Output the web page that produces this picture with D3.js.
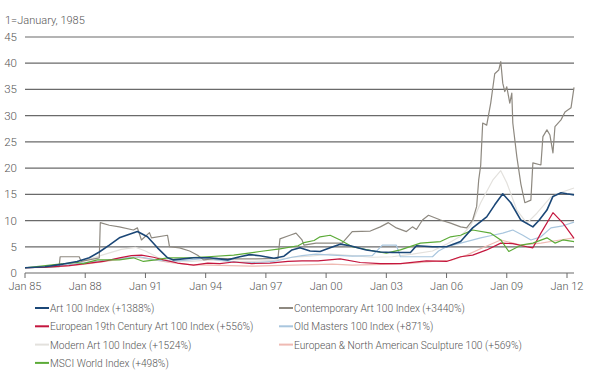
<!DOCTYPE html>
<html>
<head>
<meta charset="utf-8">
<script src="https://cdn.jsdelivr.net/npm/d3@7"></script>
<style>
  body { margin: 0; background: #fff; }
  svg text { font-family: Roboto, "Liberation Sans", sans-serif; font-weight: 300; fill: #555; }
</style>
</head>
<body>
<svg class="chart"></svg>
<script>
// values are index levels (1 = January 1985), dates as decimal years
var art100 = [[1985,1],[1986,1.2],[1986.9,1.7],[1987.6,2.2],[1988.2,2.9],[1988.7,4],[1989.2,5.3],[1989.7,6.7],[1990.2,7.4],[1990.6,7.9],[1991.1,6.9],[1991.6,4.8],[1992.1,2.9],[1992.4,2.5],[1993.4,2.9],[1994.2,2.9],[1995.1,2.5],[1995.7,3.1],[1996.2,3.5],[1996.7,3.3],[1997.4,2.8],[1997.9,3.2],[1998.3,4.4],[1998.7,4.8],[1999.2,4.2],[1999.7,4.1],[2000.2,4.8],[2000.7,5.5],[2001.2,5.2],[2002.0,4.4],[2002.7,4.0],[2003.3,3.9],[2004.2,3.9],[2004.5,5.2],[2005.3,5.0],[2006.0,5.0],[2006.7,6.0],[2007.3,8.6],[2008.0,10.7],[2008.4,13],[2008.8,15.1],[2009.2,13.4],[2009.7,10.1],[2010.3,8.8],[2010.6,10],[2011.0,12],[2011.3,14.6],[2011.7,15.3],[2012.0,15.1],[2012.35,14.9]];

var contemporary = [[1985,1],[1986,1.1],[1986.7,1.2],[1986.75,3.1],[1987.7,3.1],[1987.8,2.2],[1988.7,2.9],[1988.75,9.6],[1989.2,9.1],[1989.7,8.8],[1990.4,8.2],[1990.6,8.6],[1990.8,6.3],[1991.2,7.7],[1991.3,6.7],[1992.1,7.2],[1992.2,5.0],[1992.7,4.8],[1993.2,4.2],[1993.6,3.4],[1993.9,2.5],[1994.5,2.8],[1995.5,2.7],[1996.5,2.7],[1997.6,2.8],[1997.7,6.5],[1998.2,7.2],[1998.5,7.6],[1998.8,6.3],[1998.9,5.3],[1999.5,5.7],[2000.8,5.7],[2001.3,7.9],[2002.2,8.0],[2002.7,8.8],[2003.1,9.6],[2003.5,8.6],[2004.0,7.9],[2004.3,8.8],[2004.5,8.3],[2004.8,10.1],[2005.1,11],[2005.7,10.1],[2006.2,9.5],[2006.7,8.8],[2007.0,8.6],[2007.3,10.1],[2007.5,12.7],[2007.6,17.7],[2007.7,20.5],[2007.8,28.6],[2008.0,28.2],[2008.2,32.4],[2008.4,38],[2008.6,38.7],[2008.7,40.3],[2008.8,36.2],[2008.9,34.6],[2009.0,35.5],[2009.15,32.4],[2009.25,34.3],[2009.3,28.6],[2009.5,22.2],[2009.7,17],[2009.8,15.2],[2009.9,13.4],[2010.2,13.9],[2010.3,21],[2010.7,20.6],[2010.8,26],[2011.0,27.3],[2011.15,26.3],[2011.3,22.9],[2011.4,27.9],[2011.7,29.2],[2011.9,30.7],[2012.2,31.5],[2012.35,35.4]];

var european19 = [[1985,1],[1986,1.1],[1987.2,1.4],[1988.0,1.8],[1988.9,2.2],[1989.7,2.9],[1990.3,3.3],[1990.8,3.4],[1991.4,3.0],[1991.9,2.5],[1992.6,1.9],[1993.4,1.5],[1994.1,1.9],[1994.7,1.8],[1995.4,2.1],[1996.3,1.8],[1997.2,1.9],[1998.1,2.2],[1998.8,2.3],[1999.6,2.3],[2000.7,2.7],[2001.7,2.0],[2002.7,1.8],[2003.7,1.8],[2005.0,2.3],[2006.0,2.2],[2006.7,3.1],[2007.3,3.4],[2008.0,4.4],[2008.7,5.7],[2009.3,5.6],[2010.0,5.0],[2010.3,4.8],[2010.7,7.6],[2011.3,11.5],[2011.8,9.5],[2012.35,6.6]];

var oldMasters = [[1985,1],[1986,1.1],[1987,1.5],[1988,2.0],[1989,2.4],[1990,2.9],[1990.7,3.1],[1991.5,2.5],[1992.3,2.2],[1993.2,2.5],[1994.0,2.8],[1994.8,2.4],[1995.7,2.0],[1996.6,2.0],[1997.4,2.2],[1998.3,3.0],[1998.8,3.3],[1999.5,3.6],[2000.3,3.4],[2001.3,3.2],[2002.3,3.3],[2002.8,5.3],[2003.5,5.3],[2003.7,3.1],[2005.3,3.1],[2005.6,4.2],[2006.0,5.0],[2006.7,5.7],[2007.7,6.7],[2008.3,7.2],[2008.8,7.6],[2009.3,8.2],[2009.8,7.2],[2010.2,6.3],[2010.7,6.9],[2011.2,8.6],[2011.8,9.0],[2012.35,9.7]];

var modern = [[1985,1],[1986,1.1],[1987,1.6],[1988,2.4],[1989,3.6],[1989.8,4.5],[1990.5,4.9],[1991.0,4.2],[1991.6,3.0],[1992.3,2.3],[1993.3,2.2],[1994.2,2.5],[1995.3,2.2],[1996.4,2.2],[1997.4,2.4],[1998.3,3.0],[1999.2,3.2],[2000.2,3.6],[2001.3,3.3],[2002.3,3.0],[2003.3,3.1],[2004.3,3.6],[2005.3,4.2],[2006.0,5.5],[2006.7,7.0],[2007.2,9.0],[2007.7,13.4],[2008.3,17.7],[2008.7,19.5],[2009.0,17.2],[2009.5,12],[2010.0,9.5],[2010.5,11.4],[2011.2,14.5],[2011.8,15.5],[2012.35,16.2]];

var sculpture = [[1985,1],[1986,1.05],[1987,1.3],[1988,1.7],[1989,2.2],[1990,2.8],[1990.6,3.0],[1991.3,2.6],[1992.2,2.0],[1993.2,1.6],[1994.2,1.5],[1995.2,1.4],[1996.3,1.3],[1997.3,1.4],[1998.3,1.5],[1999.3,1.6],[2000.3,1.7],[2001.3,1.5],[2002.3,1.6],[2003.3,1.7],[2004.3,1.9],[2005.3,2.2],[2006.2,2.4],[2007.0,3.4],[2007.8,4.8],[2008.7,6.3],[2009.7,5.3],[2010.7,5.7],[2011.5,6.2],[2012.35,6.7]];

var msci = [[1985,1],[1985.8,1.3],[1986.7,1.7],[1987.6,2.0],[1987.9,1.8],[1988.6,2.5],[1989.7,2.5],[1990.4,2.9],[1990.9,2.2],[1991.5,2.5],[1992.1,2.9],[1993.1,2.9],[1994.1,3.1],[1995.4,3.4],[1996.7,4.1],[1997.7,4.6],[1998.6,5.2],[1998.9,5.8],[1999.4,6.2],[1999.7,6.9],[2000.2,7.2],[2000.7,6.3],[2001.3,5.0],[2002.5,4.1],[2003.0,3.8],[2003.7,4.4],[2004.7,5.7],[2005.7,6.0],[2006.2,6.9],[2006.7,7.2],[2007.3,8.2],[2008.2,7.6],[2008.7,6.3],[2009.1,4.1],[2009.7,5.3],[2010.3,5.7],[2011.0,6.7],[2011.4,5.7],[2011.8,6.3],[2012.35,6.0]];

var seriesNames = ["Art 100 Index (+1388%)", "Contemporary Art 100 Index (+3440%)",
    "European 19th Century Art 100 Index  (+556%)", "Old Masters 100 Index (+871%)",
    "Modern Art 100 Index (+1524%)", "European & North American Sculpture 100 (+569%)",
    "MSCI World Index (+498%)"];
var seriesValues = [art100, contemporary, european19, oldMasters, modern, sculpture, msci];
var seriesColors = ["#1b4777", "#8e8980", "#c4163e", "#a9c6de", "#e3e1dd", "#efbab3", "#5cab38"];

var yTicks = [0, 5, 10, 15, 20, 25, 30, 35, 40, 45];
var xTicks = [1985, 1988, 1991, 1994, 1997, 2000, 2003, 2006, 2009, 2012];

var width = 600, height = 376;

var svg = d3.select(".chart")
    .attr("width", width)
    .attr("height", height);

var x = d3.scaleLinear().domain([1985, 2012]).range([25, 567]);
var y = d3.scaleLinear().domain([0, 45]).range([273, 37]);
var gridRight = 574;

svg.append("text")
    .attr("x", 5).attr("y", 24)
    .style("font-size", "11px")
    .text("1=January, 1985");

// gridlines
svg.append("g").selectAll("line")
    .data(yTicks.filter(function(d) { return d > 0; }))
    .enter().append("line")
    .attr("x1", 25).attr("x2", gridRight)
    .attr("y1", function(d) { return y(d); })
    .attr("y2", function(d) { return y(d); })
    .attr("stroke", "#6a6a6a")
    .attr("stroke-width", 1.2);

svg.append("g").selectAll("text")
    .data(yTicks)
    .enter().append("text")
    .attr("x", 17)
    .attr("y", function(d) { return y(d) + 4; })
    .attr("text-anchor", "end")
    .style("font-size", "11.5px")
    .text(function(d) { return d; });

// lines, drawn so the darker ones end on top
var line = d3.line()
    .x(function(d) { return x(d[0]); })
    .y(function(d) { return y(d[1]); });

var drawOrder = [4, 5, 3, 1, 2, 6, 0];
svg.append("g").selectAll("path")
    .data(drawOrder)
    .enter().append("path")
    .attr("fill", "none")
    .attr("stroke", function(i) { return seriesColors[i]; })
    .attr("stroke-width", function(i) { return i === 0 ? 1.6 : 1.2; })
    .attr("stroke-linejoin", "round")
    .attr("d", function(i) { return line(seriesValues[i]); });

// x axis
var xAxis = svg.append("g");
xAxis.append("line")
    .attr("x1", 25).attr("x2", gridRight)
    .attr("y1", y(0)).attr("y2", y(0))
    .attr("stroke", "#6a6a6a").attr("stroke-width", 1.2);
xAxis.selectAll(".tick")
    .data(xTicks)
    .enter().append("line")
    .attr("x1", function(d) { return x(d); })
    .attr("x2", function(d) { return x(d); })
    .attr("y1", y(0)).attr("y2", y(0) + 5)
    .attr("stroke", "#6a6a6a");
xAxis.selectAll("text")
    .data(xTicks)
    .enter().append("text")
    .attr("x", function(d) { return x(d); })
    .attr("y", 290)
    .attr("text-anchor", "middle")
    .style("font-size", "11px")
    .text(function(d) { return "Jan " + String(d).slice(2); });

// legend: two columns
var legend = svg.append("g").selectAll("g")
    .data(seriesNames)
    .enter().append("g")
    .attr("transform", function(d, i) {
        return "translate(" + (i % 2 ? 279 : 35) + "," + (308 + Math.floor(i / 2) * 18.3) + ")";
    });
legend.append("line")
    .attr("x1", 0).attr("x2", 14)
    .attr("stroke", function(d, i) { return seriesColors[i]; })
    .attr("stroke-width", 2);
legend.append("text")
    .attr("x", 15).attr("y", 4)
    .style("font-size", "10.2px")
    .text(function(d) { return d; });
</script>
</body>
</html>
